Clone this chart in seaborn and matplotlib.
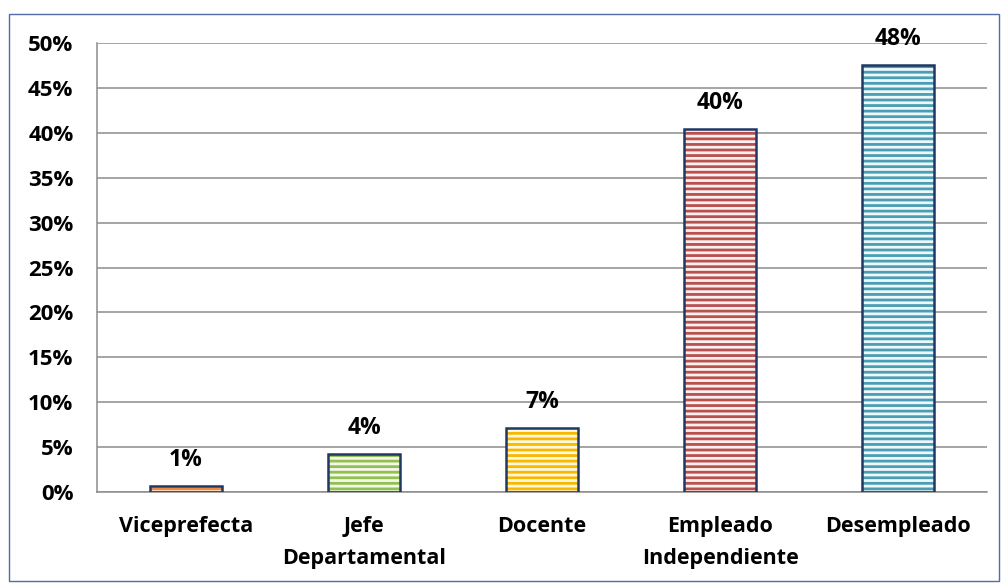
import numpy as np
import seaborn as sns
import matplotlib
matplotlib.use("Agg")
import matplotlib.pyplot as plt
from matplotlib.patches import Rectangle
from matplotlib.ticker import PercentFormatter, FixedLocator

categories = ["Viceprefecta", "Jefe\nDepartamental", "Docente",
              "Empleado\nIndependiente", "Desempleado"]
values = [0.7, 4.2, 7.1, 40.4, 47.6]
labels = ["1%", "4%", "7%", "40%", "48%"]
stripe_colors = ["#F08A3C", "#92C050", "#F8B800", "#B8504E", "#4A9DB3"]
light_colors = ["#FFF3EA", "#F3F8EA", "#FFF8DC", "#FBEFEF", "#EEF7FA"]

sns.set_style("white")
plt.rcParams['font.family'] = ['Open Sans', 'DejaVu Sans']
plt.rcParams['hatch.linewidth'] = 2.0

fig = plt.figure(figsize=(10.03, 5.83), dpi=100)
W, H = 1003, 583
ax = fig.add_axes([97 / W, (H - 492) / H, (987 - 97) / W, (492 - 43) / H])

sns.barplot(x=categories, y=values, ax=ax, width=0.4, saturation=1,
            palette=stripe_colors, hue=categories, legend=False)

# stripes: hatch lines drawn in edge colour (light), body in the strong colour
for bar, lc in zip(ax.patches, light_colors):
    bar.set_hatch("---")
    bar.set_edgecolor(lc)
    bar.set_linewidth(0)

# dark outline on top
ax.bar(range(len(categories)), values, width=0.4, fill=False,
       edgecolor="#1F3864", linewidth=1.8, zorder=3)

for i, (v, t) in enumerate(zip(values, labels)):
    ax.annotate(t, (i, v), xytext=(0, 10), textcoords="offset points",
                ha="center", va="bottom", fontsize=16.5, fontweight="bold",
                color="black")

ax.set_xlim(-0.5, len(categories) - 0.5)
ax.set_ylim(0, 50)
ax.yaxis.set_major_locator(FixedLocator(np.arange(0, 51, 5)))
ax.yaxis.set_major_formatter(PercentFormatter(decimals=0))
ax.yaxis.grid(True, color="#8C8C8C", linewidth=1.1)
ax.set_axisbelow(True)

for s in ["top", "right"]:
    ax.spines[s].set_visible(False)
for s in ["left", "bottom"]:
    ax.spines[s].set_color("#8C8C8C")
    ax.spines[s].set_linewidth(1.1)

ax.tick_params(axis="y", length=0, labelsize=16, pad=17, labelcolor="black")
ax.tick_params(axis="x", length=0, labelsize=15.5, pad=17, labelcolor="black")
ax.xaxis.set_minor_locator(FixedLocator(np.arange(-0.5, len(categories), 1)))
ax.tick_params(axis="x", which="minor", length=5, direction="out",
               color="#8C8C8C", width=1.1)
for lab in ax.get_xticklabels() + ax.get_yticklabels():
    lab.set_fontweight("bold")
    lab.set_linespacing(1.7)

fig.patches.append(Rectangle((9 / W, 2 / H), (999 - 9) / W, (H - 14 - 2) / H,
                             transform=fig.transFigure, fill=False,
                             edgecolor="#4F6EA8", linewidth=1.0))

fig.savefig("out.png", dpi=100)
